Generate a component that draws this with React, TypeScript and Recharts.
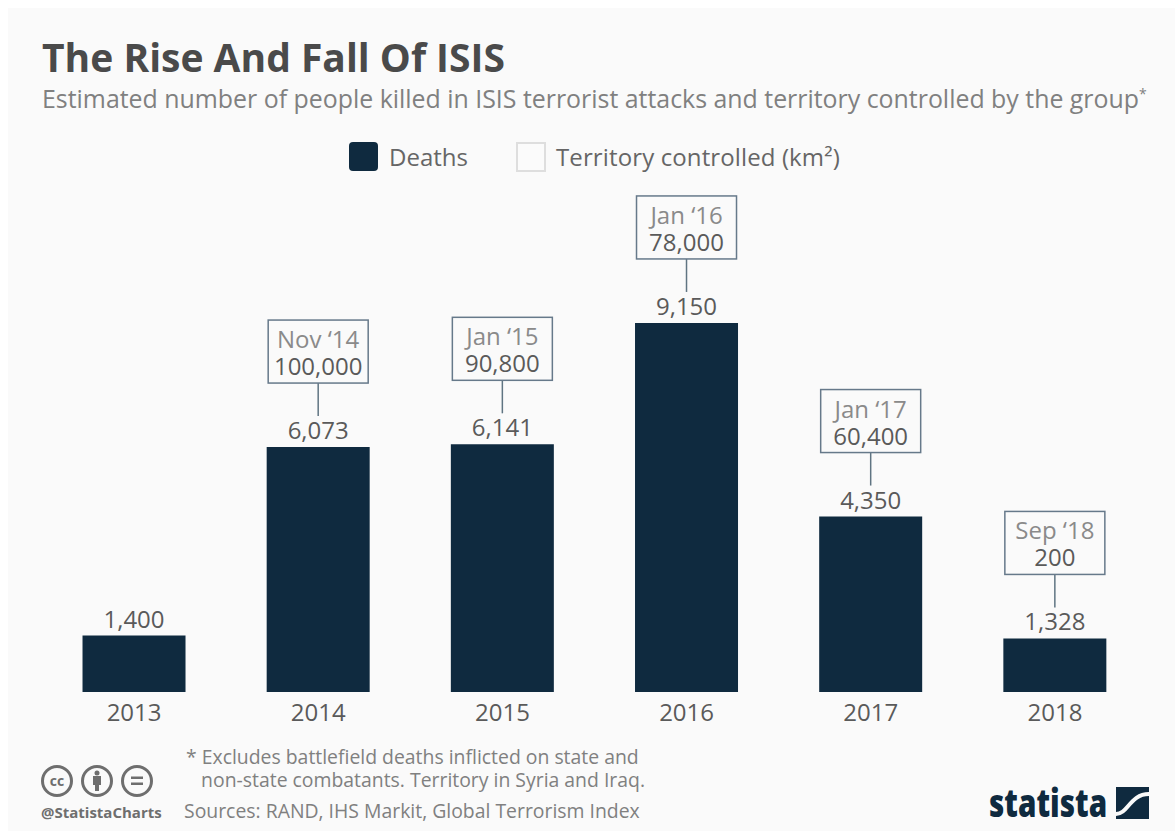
import React from 'react';
import { BarChart, Bar, XAxis, YAxis, LabelList } from 'recharts';

const years = ['2013', '2014', '2015', '2016', '2017', '2018'];
const deaths = [1400, 6073, 6141, 9150, 4350, 1328];
const territoryDates = ['', "Nov ‘14", "Jan ‘15", "Jan ‘16", "Jan ‘17", "Sep ‘18"];
const territoryValues = ['', '100,000', '90,800', '78,000', '60,400', '200'];
const legendNames = ['Deaths', 'Territory controlled (km²)'];

const chartData = years.map((year, i) => ({ year, deaths: deaths[i] }));

const FONT = '"Open Sans", sans-serif';
const NAVY = '#0f2a3f';
const GREY = '#5a5a5a';

// value above each bar, plus the territory callout box where there is one
const BarLabel = ({ x, y, width, value, index }: any) => {
  const cx = x + width / 2;
  const date = territoryDates[index];
  return (
    <g fontFamily={FONT} fontSize={24} textAnchor="middle">
      <text x={cx} y={y - 8} fill={GREY}>{value.toLocaleString('en-US')}</text>
      {date && (
        <g>
          <line x1={cx} x2={cx} y1={y - 64} y2={y - 31} stroke="#5f7482" strokeWidth={1.5} />
          <rect x={cx - 50} y={y - 127} width={100} height={63} fill="#fafafa" stroke="#66798a" strokeWidth={1.5} />
          <text x={cx} y={y - 99} fill="#8a8a8a">{date}</text>
          <text x={cx} y={y - 72} fill={GREY}>{territoryValues[index]}</text>
        </g>
      )}
    </g>
  );
};

const Legend = () => (
  <div style={{ position: 'absolute', left: 0, top: 0, fontFamily: FONT, fontSize: 24, color: '#666' }}>
    <div style={{ position: 'absolute', left: 349, top: 142, width: 29, height: 29, background: NAVY, borderRadius: 4 }} />
    <div style={{ position: 'absolute', left: 389, top: 140, whiteSpace: 'nowrap' }}>{legendNames[0]}</div>
    <div style={{ position: 'absolute', left: 516, top: 142, width: 26, height: 26, border: '2px solid #dedede', background: '#fbfbfb' }} />
    <div style={{ position: 'absolute', left: 556, top: 140, whiteSpace: 'nowrap', letterSpacing: 0.12 }}>{legendNames[1]}</div>
  </div>
);

const CcIcons = () => (
  <svg width={130} height={36} style={{ position: 'absolute', left: 37, top: 765 }}>
    <g fill="none" stroke="#6e6e6e" strokeWidth={3}>
      <circle cx={20} cy={16} r={14.5} />
      <circle cx={60} cy={16} r={14.5} />
      <circle cx={100} cy={16} r={14.5} />
    </g>
    <text x={20} y={21} textAnchor="middle" fontFamily={FONT} fontWeight={700} fontSize={14} fill="#6e6e6e">cc</text>
    <circle cx={60} cy={8} r={2.5} fill="#6e6e6e" />
    <rect x={56} y={11} width={8} height={9} fill="#6e6e6e" />
    <rect x={58} y={20} width={4} height={6} fill="#6e6e6e" />
    <rect x={94} y={11.5} width={12} height={2.5} fill="#6e6e6e" />
    <rect x={94} y={17.5} width={12} height={2.5} fill="#6e6e6e" />
  </svg>
);

const StatistaLogo = () => (
  <div>
    <div style={{ position: 'absolute', left: 989, top: 776, fontFamily: FONT, fontWeight: 800, fontSize: 38, color: NAVY, transform: 'scaleX(0.78)', transformOrigin: 'left top' }}>
      statista
    </div>
    <svg width={33} height={32} style={{ position: 'absolute', left: 1116, top: 787 }}>
      <rect width={33} height={32} fill={NAVY} />
      <path d="M0 27 C12 27 14 7 33 7" fill="none" stroke="#fafafa" strokeWidth={4} />
    </svg>
  </div>
);

export default function App() {
  return (
    <div style={{ position: 'absolute', left: 0, top: 0, width: 1175, height: 831, background: '#fff', overflow: 'hidden' }}>
      <div style={{ position: 'absolute', left: 8, top: 8, width: 1167, height: 823, background: '#fafafa' }} />
      <div style={{ position: 'absolute', left: 42, top: 30, fontFamily: FONT, fontWeight: 700, fontSize: 39, color: '#4a4a4a', whiteSpace: 'nowrap' }}>
        The Rise And Fall Of ISIS
      </div>
      <div style={{ position: 'absolute', left: 42, top: 81, fontFamily: FONT, fontSize: 24.9, color: '#808080', whiteSpace: 'nowrap' }}>
        Estimated number of people killed in ISIS terrorist attacks and territory controlled by the group<sup style={{ fontSize: 14, lineHeight: 0 }}>*</sup>
      </div>
      <Legend />
      <div style={{ position: 'absolute', left: 0, top: 0 }}>
        <BarChart width={1175} height={831} data={chartData} margin={{ top: 208, right: 28, bottom: 99, left: 42 }} barCategoryGap="22%">
          <XAxis
            dataKey="year"
            height={40}
            axisLine={false}
            tickLine={false}
            tickMargin={6}
            tick={{ fontFamily: FONT, fontSize: 24, fill: GREY }}
          />
          <YAxis hide domain={[0, 12000]} />
          <Bar dataKey="deaths" fill={NAVY} isAnimationActive={false}>
            <LabelList dataKey="deaths" content={BarLabel} />
          </Bar>
        </BarChart>
      </div>
      <div style={{ position: 'absolute', left: 186, top: 745, fontFamily: FONT, fontSize: 19.4, lineHeight: '23px', color: '#808080', whiteSpace: 'pre' }}>
        {'* Excludes battlefield deaths inflicted on state and\n   non-state combatants. Territory in Syria and Iraq.'}
      </div>
      <div style={{ position: 'absolute', left: 184, top: 797, fontFamily: FONT, fontSize: 19.4, color: '#808080', whiteSpace: 'nowrap' }}>
        Sources: RAND, IHS Markit, Global Terrorism Index
      </div>
      <div style={{ position: 'absolute', left: 41, top: 802, fontFamily: FONT, fontWeight: 700, fontSize: 15, color: '#6e6e6e', whiteSpace: 'nowrap' }}>
        @StatistaCharts
      </div>
      <CcIcons />
      <StatistaLogo />
    </div>
  );
}
